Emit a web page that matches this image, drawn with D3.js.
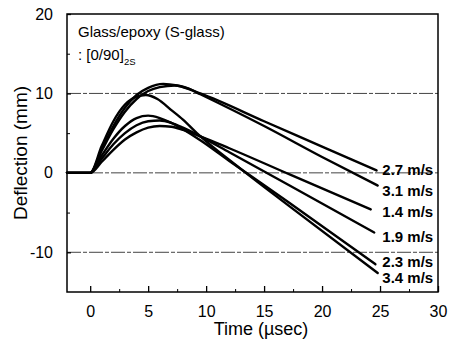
<!DOCTYPE html>
<html>
<head>
<meta charset="utf-8">
<script src="https://cdn.jsdelivr.net/npm/d3@7"></script>
<style>
  html, body { margin: 0; padding: 0; background: #fff; }
  svg { display: block; font-family: "Liberation Sans", Arial, Helvetica, sans-serif; }
</style>
</head>
<body>
<svg id="chart" width="452" height="345"></svg>
<script>
// ---- data (time in µs, deflection in mm) ----
const speedLabels = ["2.7 m/s", "3.1 m/s", "1.4 m/s", "1.9 m/s", "2.3 m/s", "3.4 m/s"];
const s27 = [[-2,0],[0,0],[1,3.0],[2,5.9],[3,8.2],[4,9.8],[5,10.7],[6.3,11.2],[7.5,11.0],[9.5,10.0],[15,6.5],[20,3.3],[24.7,0.3]];
const s31 = [[-2,0],[0,0],[1,2.8],[2,5.5],[3,7.7],[4,9.3],[5,10.3],[6,10.8],[7.3,11.0],[8.5,10.6],[9.5,9.9],[15,5.9],[20,2.0],[24.8,-1.6]];
const s14 = [[-2,0],[0,0],[1,1.4],[2,2.9],[3,4.2],[4,5.1],[5,5.7],[6,5.9],[7,5.8],[8,5.4],[9.5,4.6],[12,3.1],[17.2,-0.2],[24.2,-4.6]];
const s19 = [[-2,0],[0,0],[1,1.8],[2,3.6],[3,5.0],[4,6.0],[5,6.5],[6,6.6],[7,6.3],[8,5.7],[9.5,4.6],[12,2.6],[17.2,-1.6],[24.5,-7.5]];
const s23 = [[-2,0],[0,0],[1,2.2],[2,4.3],[3,5.9],[4,6.9],[5,7.2],[6,6.9],[7,6.3],[8,5.5],[9.5,4.1],[12,1.5],[17.2,-3.8],[24.6,-11.5]];
const s34 = [[-2,0],[0,0],[1,3.4],[2,6.5],[3,8.6],[4,9.6],[4.8,9.8],[5.8,9.3],[7,7.9],[8,6.7],[9.2,5.0],[12.9,0.6],[17,-4.0],[24.8,-12.6]];
const seriesList = [s27, s31, s14, s19, s23, s34];
const labelDeflection = [-0.26, -2.9, -5.6, -8.76, -11.8, -13.85];
const labelTime = 25.2;
const xTicks = [0, 5, 10, 15, 20, 25, 30];
const xMinorTicks = [2.5, 7.5, 12.5, 17.5, 22.5, 27.5];
const yTicks = [-10, 0, 10, 20];
const yMinorTicks = [-5, 5, 15];
const gridValues = [-10, 0, 10];

// ---- layout ----
const svg = d3.select("#chart");
const L = 67, R = 438, T = 14, B = 292;
const x = d3.scaleLinear().domain([-2, 30]).range([L, R]);
const y = d3.scaleLinear().domain([-15, 20]).range([B, T]);

// gridlines
svg.append("g").selectAll("line").data(gridValues).join("line")
  .attr("x1", L).attr("x2", R)
  .attr("y1", d => y(d)).attr("y2", d => y(d))
  .attr("stroke", "#444").attr("stroke-width", 1)
  .attr("stroke-dasharray", "14,2,4,2");

// curves
const line = d3.line().x(d => x(d[0])).y(d => y(d[1])).curve(d3.curveMonotoneX);
svg.append("g").selectAll("path").data(seriesList).join("path")
  .attr("d", line)
  .attr("fill", "none").attr("stroke", "#000")
  .attr("stroke-width", 2.4).attr("stroke-linejoin", "round").attr("stroke-linecap", "round");

// frame
svg.append("rect").attr("x", L).attr("y", T).attr("width", R - L).attr("height", B - T)
  .attr("fill", "none").attr("stroke", "#000").attr("stroke-width", 1.5);

const fmt = d => String(d);

// bottom axis (ticks inward)
const xAxis = d3.axisBottom(x).tickValues(xTicks).tickFormat(fmt).tickSizeInner(-6).tickSizeOuter(0).tickPadding(14);
const gx = svg.append("g").attr("transform", `translate(0,${B})`).call(xAxis);
gx.select(".domain").remove();
gx.selectAll("line").attr("stroke-width", 1.3);
gx.selectAll("text").attr("font-size", 16).attr("font-family", "Liberation Sans, Arial, sans-serif").attr("fill", "#000");
const gxm = svg.append("g").attr("transform", `translate(0,${B})`)
  .call(d3.axisBottom(x).tickValues(xMinorTicks).tickSizeInner(-3).tickSizeOuter(0).tickFormat(""));
gxm.select(".domain").remove();

// left axis (ticks inward)
const yAxis = d3.axisLeft(y).tickValues(yTicks).tickFormat(fmt).tickSizeInner(-4).tickSizeOuter(0).tickPadding(14);
const gy = svg.append("g").attr("transform", `translate(${L},0)`).call(yAxis);
gy.select(".domain").remove();
gy.selectAll("line").attr("stroke-width", 1.3);
gy.selectAll("text").attr("font-size", 16).attr("font-family", "Liberation Sans, Arial, sans-serif").attr("fill", "#000");
const gym = svg.append("g").attr("transform", `translate(${L},0)`)
  .call(d3.axisLeft(y).tickValues(yMinorTicks).tickSizeInner(-3).tickSizeOuter(0).tickFormat(""));
gym.select(".domain").remove();

// axis titles
svg.append("text").attr("x", 261).attr("y", 335).attr("text-anchor", "middle")
  .attr("font-size", 18).text("Time (\u00B5sec)");
svg.append("text").attr("transform", `translate(27,${(T + B) / 2}) rotate(-90)`)
  .attr("text-anchor", "middle").attr("font-size", 19).text("Deflection (mm)");

// annotation
svg.append("text").attr("x", 78).attr("y", 37).attr("font-size", 15).text("Glass/epoxy (S-glass)");
const t2 = svg.append("text").attr("x", 78).attr("y", 60).attr("font-size", 15);
t2.append("tspan").text(": [0/90]");
t2.append("tspan").attr("font-size", 9.5).attr("dy", 5).text("2S");

// speed labels
svg.append("g").selectAll("text").data(speedLabels).join("text")
  .attr("x", x(labelTime)).attr("y", (d, i) => y(labelDeflection[i]))
  .attr("font-size", 15).attr("font-weight", "bold").text(d => d);
</script>
</body>
</html>
